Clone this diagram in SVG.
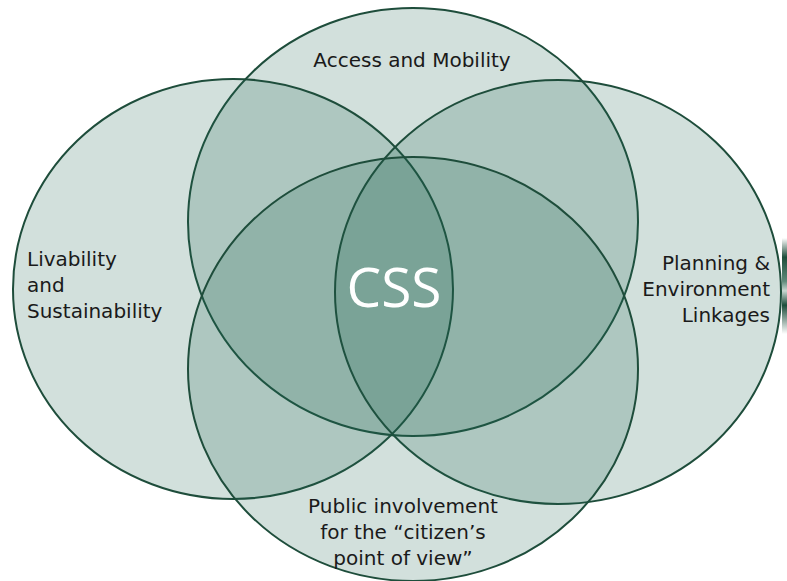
<svg xmlns="http://www.w3.org/2000/svg" width="787" height="581" viewBox="0 0 787 581">
<style>
.c{fill:rgb(30,100,80);fill-opacity:0.2;stroke:#1e4d3b;stroke-width:2}
.t{font-family:"DejaVu Sans","Open Sans",sans-serif;font-size:20px;fill:#1a1a1a}
.css{font-family:"Open Sans","DejaVu Sans",sans-serif;font-size:55px;fill:#ffffff}
</style>
<defs>
<linearGradient id="edge" x1="0" y1="0" x2="0" y2="1">
<stop offset="0" stop-color="#ffffff"/>
<stop offset="0.2" stop-color="#1e4d3b"/>
<stop offset="0.45" stop-color="#5f8a7a"/>
<stop offset="0.55" stop-color="#c9d8d2"/>
<stop offset="0.7" stop-color="#1e4d3b"/>
<stop offset="1" stop-color="#ffffff"/>
</linearGradient>
</defs>
<rect width="787" height="581" fill="#ffffff"/>
<rect x="782" y="238" width="5" height="96" fill="url(#edge)"/>
<g id="access"><ellipse class="c" cx="413" cy="222" rx="225" ry="214"/></g>
<g id="livability"><ellipse class="c" cx="233" cy="289" rx="220" ry="210"/></g>
<g id="planning"><ellipse class="c" cx="558" cy="292" rx="223" ry="212"/></g>
<g id="public"><ellipse class="c" cx="413" cy="369" rx="225" ry="212"/></g>
<g id="connectors"></g>
<g id="labels">
<text class="t" x="412" y="67" text-anchor="middle">Access and Mobility</text>
<text class="t" x="27" y="266">Livability</text>
<text class="t" x="27" y="292">and</text>
<text class="t" x="27" y="318">Sustainability</text>
<text class="t" x="770" y="270" text-anchor="end">Planning &amp;</text>
<text class="t" x="770" y="296" text-anchor="end">Environment</text>
<text class="t" x="770" y="322" text-anchor="end">Linkages</text>
<text class="t" x="403" y="513" text-anchor="middle">Public involvement</text>
<text class="t" x="403" y="539" text-anchor="middle">for the “citizen’s</text>
<text class="t" x="403" y="565" text-anchor="middle">point of view”</text>
<text class="css" x="394" y="307" text-anchor="middle">CSS</text>
</g>
</svg>
